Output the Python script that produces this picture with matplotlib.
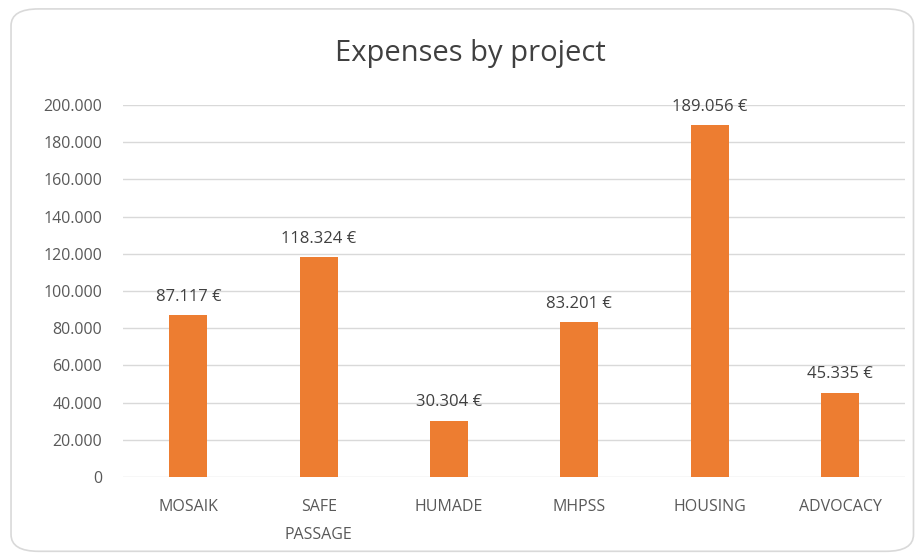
import matplotlib.pyplot as plt
from matplotlib.patches import FancyBboxPatch

projects = ["MOSAIK", "SAFE\nPASSAGE", "HUMADE", "MHPSS", "HOUSING", "ADVOCACY"]
expenses = [87117, 118324, 30304, 83201, 189056, 45335]
yticks = [0, 20000, 40000, 60000, 80000, 100000, 120000, 140000, 160000, 180000, 200000]


def de_fmt(v):
    return f"{v:,.0f}".replace(",", ".")


plt.rcParams["font.family"] = ["Open Sans", "DejaVu Sans"]

fig = plt.figure(figsize=(9.19, 5.58), dpi=100)
ax = fig.add_axes([0.134, 0.145, 0.851, 0.667])

# rounded chart border like excel
border = FancyBboxPatch((0.012, 0.012), 0.982, 0.972, boxstyle="round,pad=0,rounding_size=0.03",
                        transform=fig.transFigure, fill=False, edgecolor="#d9d9d9", linewidth=1.2)
fig.patches.append(border)

x = range(len(projects))
ax.bar(x, expenses, width=0.29, color="#ed7d31", zorder=3)

for i, v in enumerate(expenses):
    ax.text(i, v + 5500, de_fmt(v) + " €", ha="center", va="bottom", fontsize=12, color="#404040")

ax.set_ylim(0, 200000)
ax.set_xlim(-0.5, len(projects) - 0.5)
ax.set_yticks(yticks)
ax.set_yticklabels([de_fmt(t) for t in yticks], fontsize=11.5, color="#595959")
ax.set_xticks(list(x))
ax.set_xticklabels(projects, fontsize=11.5, color="#595959", linespacing=2.0)
ax.tick_params(axis="x", length=0, pad=16)
ax.tick_params(axis="y", length=0, pad=15)
ax.grid(axis="y", color="#d9d9d9", linewidth=1, zorder=0)
for s in ax.spines.values():
    s.set_visible(False)

fig.text(0.512, 0.905, "Expenses by project", ha="center", va="center", fontsize=21, color="#404040")

fig.savefig("out.png", dpi=100)
